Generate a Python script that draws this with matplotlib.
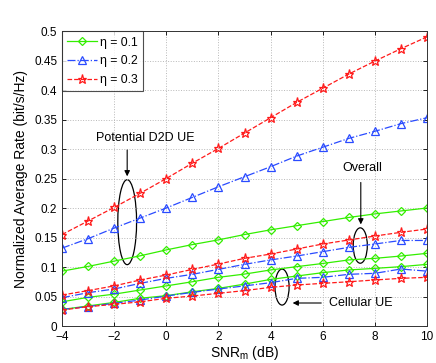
import matplotlib
matplotlib.use("Agg")
import matplotlib.pyplot as plt
from matplotlib.patches import Ellipse
from matplotlib.ticker import FuncFormatter

plt.rcParams['font.family'] = ['Liberation Sans', 'DejaVu Sans']

snr = [-4, -3, -2, -1, 0, 1, 2, 3, 4, 5, 6, 7, 8, 9, 10]

d2d_01 = [0.093, 0.101, 0.110, 0.119, 0.129, 0.138, 0.146, 0.155, 0.163, 0.170, 0.177, 0.184, 0.190, 0.195, 0.200]
d2d_02 = [0.132, 0.148, 0.166, 0.183, 0.200, 0.218, 0.236, 0.253, 0.270, 0.288, 0.303, 0.318, 0.330, 0.343, 0.353]
d2d_03 = [0.155, 0.178, 0.201, 0.225, 0.250, 0.276, 0.301, 0.327, 0.353, 0.379, 0.403, 0.427, 0.449, 0.470, 0.490]

ovr_01 = [0.041, 0.0486, 0.054, 0.061, 0.068, 0.075, 0.0825, 0.088, 0.095, 0.1006, 0.106, 0.112, 0.1147, 0.1186, 0.1232]
ovr_02 = [0.048, 0.0565, 0.0627, 0.0723, 0.0808, 0.0876, 0.096, 0.1045, 0.112, 0.1186, 0.126, 0.1333, 0.139, 0.145, 0.145]
ovr_03 = [0.0525, 0.060, 0.068, 0.078, 0.0864, 0.096, 0.105, 0.1147, 0.122, 0.1305, 0.139, 0.1458, 0.1525, 0.1588, 0.1644]

cel_01 = [0.028, 0.034, 0.040, 0.047, 0.0514, 0.058, 0.0638, 0.071, 0.079, 0.0847, 0.0904, 0.095, 0.0977, 0.1006, 0.1045]
cel_02 = [0.028, 0.033, 0.0384, 0.044, 0.0508, 0.057, 0.0627, 0.068, 0.0734, 0.0808, 0.0825, 0.0876, 0.0893, 0.0966, 0.093]
cel_03 = [0.027, 0.0328, 0.0367, 0.041, 0.047, 0.0508, 0.0554, 0.060, 0.0655, 0.0695, 0.0723, 0.075, 0.078, 0.0808, 0.0825]

labels = ['η = 0.1', 'η = 0.2', 'η = 0.3']
GREEN = '#33ee00'
BLUE = '#2a4bff'
RED = '#ff1a1a'

fig = plt.figure(figsize=(4.36, 3.63), dpi=100)
ax = fig.add_axes([0.1422, 0.1019, 0.8372, 0.8127])

styles = [
    dict(color=GREEN, linestyle='-', marker='D', markersize=4.5),
    dict(color=BLUE, linestyle='-.', marker='^', markersize=5.5),
    dict(color=RED, linestyle='--', marker='*', markersize=6.5),
]

groups = [
    (d2d_01, d2d_02, d2d_03),
    (ovr_01, ovr_02, ovr_03),
    (cel_01, cel_02, cel_03),
]

handles = []
for gi, grp in enumerate(groups):
    for si, vals in enumerate(grp):
        st = styles[si]
        h, = ax.plot(snr, vals, color=st['color'], linestyle=st['linestyle'],
                     marker=st['marker'], markersize=st['markersize'],
                     markerfacecolor='none', markeredgecolor=st['color'],
                     markeredgewidth=0.9, linewidth=0.9)
        if gi == 0:
            handles.append(h)

ax.set_xlim(-4, 10)
ax.set_ylim(0, 0.5)
ax.set_xticks([-4, -2, 0, 2, 4, 6, 8, 10])
ax.set_yticks([0, 0.05, 0.1, 0.15, 0.2, 0.25, 0.3, 0.35, 0.4, 0.45, 0.5])
ax.yaxis.set_major_formatter(FuncFormatter(lambda v, p: ('%g' % round(v, 3))))
ax.grid(True, linestyle=':', color='#b8b8b8', linewidth=0.7)
ax.tick_params(direction='in', labelsize=8.5, top=True, right=True, length=3, width=0.6)
for sp in ax.spines.values():
    sp.set_linewidth(0.7)
    sp.set_color('#333333')

ax.set_xlabel('SNR$_\\mathregular{m}$ (dB)', fontsize=10, labelpad=1)
ax.set_ylabel('Normalized Average Rate (bit/s/Hz)', fontsize=10, labelpad=4)

leg = ax.legend(handles, labels, loc='upper left', fontsize=8.8, frameon=True,
                fancybox=False, borderaxespad=0, handlelength=2.4,
                handletextpad=0.25, labelspacing=0.55, borderpad=0.45)
leg.get_frame().set_edgecolor('#222222')
leg.get_frame().set_linewidth(0.8)

# Annotations
ax.add_patch(Ellipse((-1.5, 0.176), 0.72, 0.144, fill=False, edgecolor='black', linewidth=0.9))
ax.add_patch(Ellipse((7.44, 0.1364), 0.54, 0.060, fill=False, edgecolor='black', linewidth=0.9))
ax.add_patch(Ellipse((4.44, 0.066), 0.54, 0.061, fill=False, edgecolor='black', linewidth=0.9))

arrow = dict(arrowstyle='-|>', color='black', linewidth=0.8, mutation_scale=8)
ax.text(-0.8, 0.318, 'Potential D2D UE', fontsize=9, ha='center', va='center')
ax.annotate('', xy=(-1.5, 0.249), xytext=(-1.5, 0.303), arrowprops=arrow)
ax.text(7.5, 0.268, 'Overall', fontsize=9, ha='center', va='center')
ax.annotate('', xy=(7.46, 0.1675), xytext=(7.46, 0.248), arrowprops=arrow)
ax.text(6.25, 0.039, 'Cellular UE', fontsize=9, ha='left', va='center')
ax.annotate('', xy=(4.74, 0.039), xytext=(6.05, 0.039), arrowprops=arrow)

fig.savefig('out.png', dpi=100)
